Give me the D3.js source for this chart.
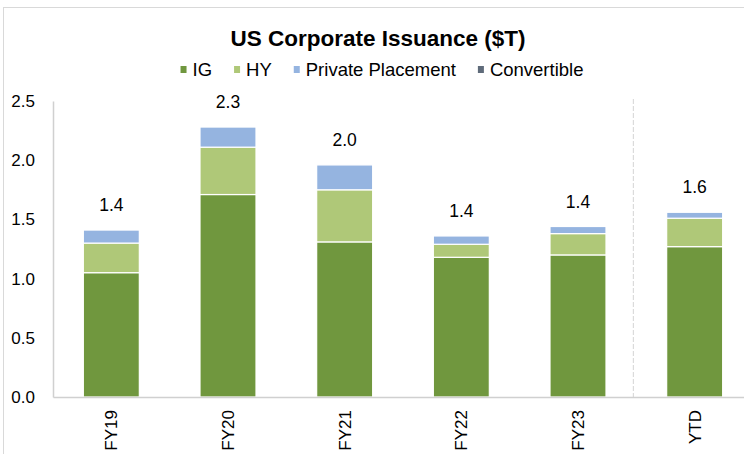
<!DOCTYPE html>
<html>
<head>
<meta charset="utf-8">
<script src="https://cdn.jsdelivr.net/npm/d3@7"></script>
<style>
  body { margin: 0; background: #fff; }
  svg text { font-family: "Liberation Sans", Arial, sans-serif; fill: #000; }
</style>
</head>
<body>
<div id="chart"></div>
<script>
// Values in $T
var categories = ["FY19", "FY20", "FY21", "FY22", "FY23", "YTD"];
var igValues = [1.05, 1.71, 1.31, 1.18, 1.20, 1.27];
var hyValues = [0.25, 0.40, 0.44, 0.11, 0.18, 0.24];
var privatePlacementValues = [0.11, 0.17, 0.21, 0.07, 0.06, 0.05];
var convertibleValues = [0, 0, 0, 0, 0, 0];

var seriesNames = ["IG", "HY", "Private Placement", "Convertible"];
var seriesColors = ["#70973e", "#afc878", "#95b4e0", "#5f6b7a"];
var yTicks = [0, 0.5, 1.0, 1.5, 2.0, 2.5];

var width = 744, height = 454;

var svg = d3.select("#chart")
    .append("svg")
    .attr("width", width)
    .attr("height", height);

// outer frame
svg.append("rect")
    .attr("x", 3.5).attr("y", 7.5)
    .attr("width", width + 20).attr("height", height + 20)
    .attr("fill", "none")
    .attr("stroke", "#d9d9d9");

// build a table for d3.stack
var table = categories.map(function (c, i) {
    return {
        cat: c,
        "IG": igValues[i],
        "HY": hyValues[i],
        "Private Placement": privatePlacementValues[i],
        "Convertible": convertibleValues[i]
    };
});

var stacked = d3.stack().keys(seriesNames)(table);

var x = d3.scaleBand()
    .domain(categories)
    .range([53, 753])
    .paddingInner(0.52)
    .paddingOuter(0.26);

var y = d3.scaleLinear()
    .domain([0, 2.5])
    .range([397, 101]);

var color = d3.scaleOrdinal().domain(seriesNames).range(seriesColors);

function total(d) {
    return d["IG"] + d["HY"] + d["Private Placement"] + d["Convertible"];
}

// y axis
var yAxis = svg.append("g")
    .attr("transform", "translate(53,0)")
    .call(d3.axisLeft(y).tickValues(yTicks).tickFormat(d3.format(".1f")).tickSize(0).tickPadding(18));
yAxis.select(".domain").attr("stroke", "#d0d0d0").attr("stroke-width", 1.5);
yAxis.selectAll("text")
    .style("font-size", "17px")
    .style("font-family", "'Liberation Sans', Arial, sans-serif")
    .attr("fill", "#000");

// divider between full years and YTD
var dividerX = x("YTD") - x.step() * x.paddingInner() / 2 - 3;
svg.append("line")
    .attr("x1", dividerX).attr("x2", dividerX)
    .attr("y1", 99).attr("y2", y(0))
    .attr("stroke", "#d4d4d4")
    .attr("stroke-dasharray", "5,2");

// bars
var layer = svg.selectAll(".series")
    .data(stacked)
    .enter()
    .append("g")
    .attr("class", "series")
    .attr("fill", function (d) { return color(d.key); });

layer.selectAll("rect")
    .data(function (d) { return d; })
    .enter()
    .append("rect")
    .attr("x", function (d) { return x(d.data.cat); })
    .attr("y", function (d) { return y(d[1]); })
    .attr("width", x.bandwidth())
    .attr("height", function (d) { return Math.max(0, y(d[0]) - y(d[1])); })
    .attr("stroke", "#fff")
    .attr("stroke-width", function (d) { return d[1] - d[0] > 0 ? 1.2 : 0; });

// x axis
var xAxis = svg.append("g")
    .attr("transform", "translate(0," + y(0) + ")")
    .call(d3.axisBottom(x).tickSize(0).tickSizeOuter(0));
xAxis.select(".domain").attr("stroke", "#d0d0d0").attr("stroke-width", 1.5);
xAxis.selectAll("text")
    .style("font-size", "17px")
    .style("font-family", "'Liberation Sans', Arial, sans-serif")
    .attr("fill", "#000")
    .attr("text-anchor", "end")
    .attr("transform", "rotate(-90)")
    .attr("x", -13)
    .attr("y", 0)
    .attr("dy", "0.35em");

// totals above each bar
svg.selectAll(".total")
    .data(table)
    .enter()
    .append("text")
    .attr("class", "total")
    .attr("x", function (d) { return x(d.cat) + x.bandwidth() / 2; })
    .attr("y", function (d) { return y(total(d)) - 19; })
    .attr("text-anchor", "middle")
    .style("font-size", "17.5px")
    .text(function (d) { return total(d).toFixed(1); });

// title
svg.append("text")
    .attr("x", 378)
    .attr("y", 46)
    .attr("text-anchor", "middle")
    .style("font-size", "22.5px")
    .style("font-weight", "bold")
    .text("US Corporate Issuance ($T)");

// legend
var legend = svg.append("g");
var lx = 0;
var gap = 22;
var items = legend.selectAll(".item")
    .data(seriesNames)
    .enter()
    .append("g")
    .attr("class", "item");

items.append("rect")
    .attr("y", -4)
    .attr("width", 6)
    .attr("height", 7)
    .attr("fill", function (d) { return color(d); });

items.append("text")
    .attr("x", 12)
    .attr("dy", "0.35em")
    .style("font-size", "18.5px")
    .text(function (d) { return d; });

items.each(function () {
    var g = d3.select(this);
    g.attr("transform", "translate(" + lx + ",0)");
    lx += 12 + g.select("text").node().getComputedTextLength() + gap;
});
var legendWidth = lx - gap;
legend.attr("transform", "translate(" + (382 - legendWidth / 2) + ",70)");
</script>
</body>
</html>
